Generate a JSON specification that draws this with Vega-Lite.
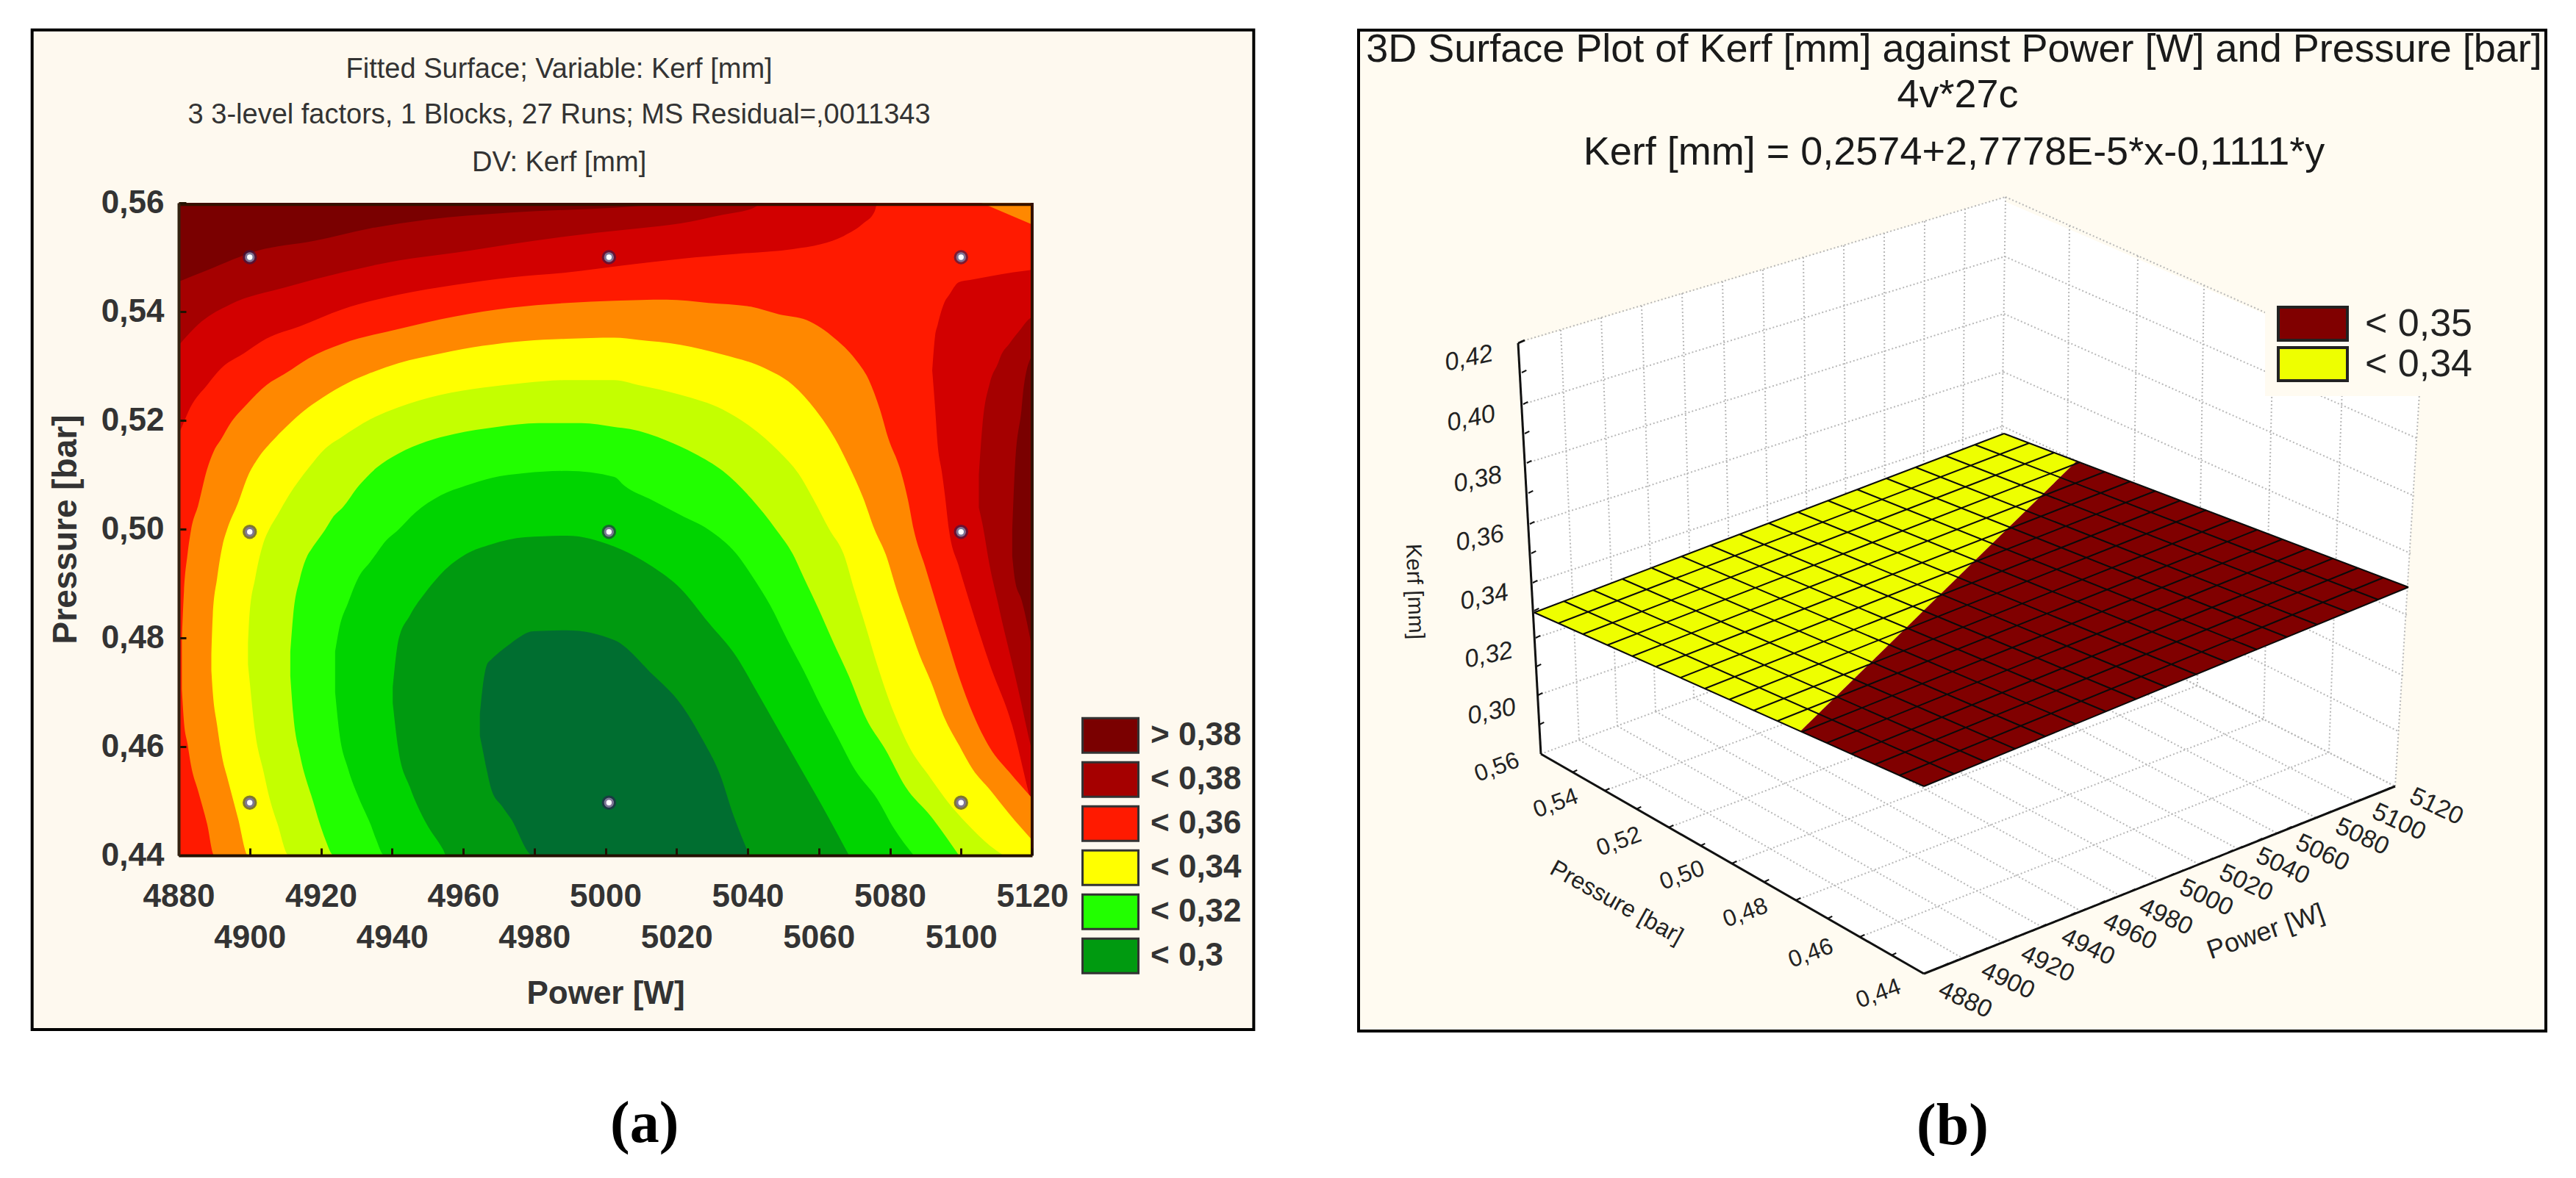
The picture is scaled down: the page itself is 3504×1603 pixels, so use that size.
{"$schema":"https://vega.github.io/schema/vega-lite/v6.json","background":"#ffffff","padding":{"left":41,"top":38,"right":0,"bottom":0},"config":{"font":"Liberation Sans","view":{"stroke":null}},"spacing":138,"resolve":{"scale":{"color":"independent"},"legend":{"color":"independent"}},"hconcat":[{"width":1161,"height":888,"encoding":{"x":{"field":"power","type":"quantitative","scale":{"domain":[4880,5120],"nice":false},"axis":{"values":[4880,4900,4920,4940,4960,4980,5000,5020,5040,5060,5080,5100,5120],"title":"Power [W]","titleFontSize":44,"titleFontWeight":"bold","titleColor":"#333333","titlePadding":32,"labelFontSize":44,"labelFontWeight":"bold","labelColor":"#333333","labelOverlap":false,"labelFlush":false,"labelBound":false,"labelPadding":44,"labelBaseline":"top","labelLineHeight":56,"format":"d","labelExpr":"indexof([4900,4940,4980,5020,5060,5100], datum.value) >= 0 ? ['', datum.label] : datum.label","tickSize":-10,"tickColor":"#221100","tickWidth":3,"domainColor":"#221100","domainWidth":4,"grid":false,"zindex":1}},"y":{"field":"upper","type":"quantitative","stack":null,"scale":{"domain":[0.44,0.56],"nice":false},"axis":{"values":[0.44,0.46,0.48,0.5,0.52,0.54,0.56],"title":"Pressure [bar]","titleFontSize":46,"titleFontWeight":"bold","titleColor":"#333333","titlePadding":24,"labelFontSize":44,"labelFontWeight":"bold","labelColor":"#333333","labelOverlap":false,"labelFlush":false,"labelBound":false,"labelPadding":30,"labelExpr":"replace(format(datum.value,'.2f'),'.',',')","tickSize":-10,"tickColor":"#221100","tickWidth":3,"domainColor":"#332211","domainWidth":4,"grid":false,"zindex":1}}},"layer":[{"data":{"values":[{"power":4838.8,"x2":5182.3,"upper":0.40797,"y2":0.5918}]},"mark":{"type":"rect","fill":"#fef9ef","stroke":"#000000","strokeWidth":4},"encoding":{"x2":{"field":"x2"},"y2":{"field":"y2"}}},{"data":{"values":[
{"shape":"s00","band":"> 0,38","power":4880,"upper":0.56,"lower":0.44},{"shape":"s00","band":"> 0,38","power":5120,"upper":0.56,"lower":0.44},
{"shape":"s01","band":"< 0,38","power":4880,"upper":0.5455,"lower":0.44},{"shape":"s01","band":"< 0,38","power":4888,"upper":0.5476,"lower":0.44},{"shape":"s01","band":"< 0,38","power":4902.3,"upper":0.5512,"lower":0.44},{"shape":"s01","band":"< 0,38","power":4918.1,"upper":0.553,"lower":0.44},{"shape":"s01","band":"< 0,38","power":4933.9,"upper":0.5553,"lower":0.44},{"shape":"s01","band":"< 0,38","power":4949.7,"upper":0.5569,"lower":0.44},{"shape":"s01","band":"< 0,38","power":4973.4,"upper":0.5582,"lower":0.44},{"shape":"s01","band":"< 0,38","power":5002.5,"upper":0.5591,"lower":0.44},{"shape":"s01","band":"< 0,38","power":5025,"upper":0.56,"lower":0.44},{"shape":"s01","band":"< 0,38","power":5120,"upper":0.56,"lower":0.44},
{"shape":"s02","band":"< 0,37","power":4880,"upper":0.5338,"lower":0.44},{"shape":"s02","band":"< 0,37","power":4886.5,"upper":0.5382,"lower":0.44},{"shape":"s02","band":"< 0,37","power":4894.4,"upper":0.5413,"lower":0.44},{"shape":"s02","band":"< 0,37","power":4910.2,"upper":0.5445,"lower":0.44},{"shape":"s02","band":"< 0,37","power":4926,"upper":0.5472,"lower":0.44},{"shape":"s02","band":"< 0,37","power":4941.8,"upper":0.5494,"lower":0.44},{"shape":"s02","band":"< 0,37","power":4957.6,"upper":0.5508,"lower":0.44},{"shape":"s02","band":"< 0,37","power":4973.4,"upper":0.5524,"lower":0.44},{"shape":"s02","band":"< 0,37","power":4997.4,"upper":0.5545,"lower":0.44},{"shape":"s02","band":"< 0,37","power":5009.3,"upper":0.5553,"lower":0.44},{"shape":"s02","band":"< 0,37","power":5021.1,"upper":0.5562,"lower":0.44},{"shape":"s02","band":"< 0,37","power":5033,"upper":0.5578,"lower":0.44},{"shape":"s02","band":"< 0,37","power":5041,"upper":0.5589,"lower":0.44},{"shape":"s02","band":"< 0,37","power":5045,"upper":0.56,"lower":0.44},{"shape":"s02","band":"< 0,37","power":5120,"upper":0.56,"lower":0.44},
{"shape":"s03","band":"< 0,36","power":4880,"upper":0.5175,"lower":0.44},{"shape":"s03","band":"< 0,36","power":4880.9,"upper":0.5188,"lower":0.44},{"shape":"s03","band":"< 0,36","power":4883.3,"upper":0.5224,"lower":0.44},{"shape":"s03","band":"< 0,36","power":4888,"upper":0.5265,"lower":0.44},{"shape":"s03","band":"< 0,36","power":4892,"upper":0.5296,"lower":0.44},{"shape":"s03","band":"< 0,36","power":4898.3,"upper":0.5323,"lower":0.44},{"shape":"s03","band":"< 0,36","power":4904.6,"upper":0.535,"lower":0.44},{"shape":"s03","band":"< 0,36","power":4914.1,"upper":0.5373,"lower":0.44},{"shape":"s03","band":"< 0,36","power":4926,"upper":0.5404,"lower":0.44},{"shape":"s03","band":"< 0,36","power":4941.8,"upper":0.5431,"lower":0.44},{"shape":"s03","band":"< 0,36","power":4957.6,"upper":0.5449,"lower":0.44},{"shape":"s03","band":"< 0,36","power":4973.4,"upper":0.5463,"lower":0.44},{"shape":"s03","band":"< 0,36","power":4989.2,"upper":0.5472,"lower":0.44},{"shape":"s03","band":"< 0,36","power":5005.3,"upper":0.5485,"lower":0.44},{"shape":"s03","band":"< 0,36","power":5021.1,"upper":0.5497,"lower":0.44},{"shape":"s03","band":"< 0,36","power":5036.9,"upper":0.5506,"lower":0.44},{"shape":"s03","band":"< 0,36","power":5052.7,"upper":0.5515,"lower":0.44},{"shape":"s03","band":"< 0,36","power":5060.6,"upper":0.5524,"lower":0.44},{"shape":"s03","band":"< 0,36","power":5067,"upper":0.5539,"lower":0.44},{"shape":"s03","band":"< 0,36","power":5072.5,"upper":0.5562,"lower":0.44},{"shape":"s03","band":"< 0,36","power":5075.7,"upper":0.5584,"lower":0.44},{"shape":"s03","band":"< 0,36","power":5076.5,"upper":0.56,"lower":0.44},{"shape":"s03","band":"< 0,36","power":5120,"upper":0.56,"lower":0.44},
{"shape":"s04","band":"< 0,35","power":5105.7,"upper":0.56,"lower":0.56},{"shape":"s04","band":"< 0,35","power":5120,"upper":0.56,"lower":0.556},
{"shape":"s05","band":"< 0,37","power":5091.9,"upper":0.5292,"lower":0.5292},{"shape":"s05","band":"< 0,37","power":5092.7,"upper":0.5355,"lower":0.5224},{"shape":"s05","band":"< 0,37","power":5093.4,"upper":0.5375,"lower":0.5157},{"shape":"s05","band":"< 0,37","power":5094.6,"upper":0.5404,"lower":0.5105},{"shape":"s05","band":"< 0,37","power":5095.4,"upper":0.5418,"lower":0.5066},{"shape":"s05","band":"< 0,37","power":5096.6,"upper":0.543,"lower":0.4999},{"shape":"s05","band":"< 0,37","power":5099.4,"upper":0.5454,"lower":0.4931},{"shape":"s05","band":"< 0,37","power":5102.5,"upper":0.5458,"lower":0.4864},{"shape":"s05","band":"< 0,37","power":5108.1,"upper":0.5465,"lower":0.4751},{"shape":"s05","band":"< 0,37","power":5114.4,"upper":0.5472,"lower":0.4639},{"shape":"s05","band":"< 0,37","power":5119.1,"upper":0.5476,"lower":0.4513},{"shape":"s05","band":"< 0,37","power":5120,"upper":0.5477,"lower":0.449},
{"shape":"s06","band":"< 0,38","power":5105,"upper":0.51,"lower":0.504},{"shape":"s06","band":"< 0,38","power":5106,"upper":0.519,"lower":0.501},{"shape":"s06","band":"< 0,38","power":5108.1,"upper":0.5269,"lower":0.4931},{"shape":"s06","band":"< 0,38","power":5110.4,"upper":0.5305,"lower":0.4864},{"shape":"s06","band":"< 0,38","power":5111.2,"upper":0.5319,"lower":0.484},{"shape":"s06","band":"< 0,38","power":5113.6,"upper":0.5341,"lower":0.4774},{"shape":"s06","band":"< 0,38","power":5115.2,"upper":0.5355,"lower":0.473},{"shape":"s06","band":"< 0,38","power":5116.8,"upper":0.5368,"lower":0.4684},{"shape":"s06","band":"< 0,38","power":5119.1,"upper":0.5386,"lower":0.4615},{"shape":"s06","band":"< 0,38","power":5120,"upper":0.539,"lower":0.459},
{"shape":"s07","band":"> 0,38","power":5114.4,"upper":0.5,"lower":0.495},{"shape":"s07","band":"> 0,38","power":5115.2,"upper":0.512,"lower":0.4905},{"shape":"s07","band":"> 0,38","power":5117,"upper":0.522,"lower":0.487},{"shape":"s07","band":"> 0,38","power":5117.6,"upper":0.526,"lower":0.4855},{"shape":"s07","band":"> 0,38","power":5120,"upper":0.532,"lower":0.478},
{"shape":"s08","band":"< 0,35","power":4880.9,"upper":0.4796,"lower":0.4706},{"shape":"s08","band":"< 0,35","power":4881.5,"upper":0.4886,"lower":0.4645},{"shape":"s08","band":"< 0,35","power":4882.5,"upper":0.4954,"lower":0.4605},{"shape":"s08","band":"< 0,35","power":4883.5,"upper":0.4999,"lower":0.4565},{"shape":"s08","band":"< 0,35","power":4885.5,"upper":0.5044,"lower":0.4518},{"shape":"s08","band":"< 0,35","power":4888,"upper":0.511,"lower":0.4458},{"shape":"s08","band":"< 0,35","power":4890,"upper":0.5145,"lower":0.44},{"shape":"s08","band":"< 0,35","power":4892,"upper":0.5166,"lower":0.44},{"shape":"s08","band":"< 0,35","power":4894.4,"upper":0.5193,"lower":0.44},{"shape":"s08","band":"< 0,35","power":4899.1,"upper":0.5229,"lower":0.44},{"shape":"s08","band":"< 0,35","power":4904.7,"upper":0.5265,"lower":0.44},{"shape":"s08","band":"< 0,35","power":4910.2,"upper":0.5287,"lower":0.44},{"shape":"s08","band":"< 0,35","power":4916.5,"upper":0.5314,"lower":0.44},{"shape":"s08","band":"< 0,35","power":4926,"upper":0.5341,"lower":0.44},{"shape":"s08","band":"< 0,35","power":4941.8,"upper":0.5368,"lower":0.44},{"shape":"s08","band":"< 0,35","power":4957.6,"upper":0.5391,"lower":0.44},{"shape":"s08","band":"< 0,35","power":4973.4,"upper":0.5407,"lower":0.44},{"shape":"s08","band":"< 0,35","power":4989.2,"upper":0.5416,"lower":0.44},{"shape":"s08","band":"< 0,35","power":5002.5,"upper":0.542,"lower":0.44},{"shape":"s08","band":"< 0,35","power":5017.2,"upper":0.5422,"lower":0.44},{"shape":"s08","band":"< 0,35","power":5029,"upper":0.5416,"lower":0.44},{"shape":"s08","band":"< 0,35","power":5040.9,"upper":0.5409,"lower":0.44},{"shape":"s08","band":"< 0,35","power":5048.8,"upper":0.5395,"lower":0.44},{"shape":"s08","band":"< 0,35","power":5056.7,"upper":0.5384,"lower":0.44},{"shape":"s08","band":"< 0,35","power":5064.6,"upper":0.535,"lower":0.44},{"shape":"s08","band":"< 0,35","power":5070.1,"upper":0.5314,"lower":0.44},{"shape":"s08","band":"< 0,35","power":5074.1,"upper":0.5274,"lower":0.44},{"shape":"s08","band":"< 0,35","power":5077.2,"upper":0.522,"lower":0.44},{"shape":"s08","band":"< 0,35","power":5079.6,"upper":0.5166,"lower":0.44},{"shape":"s08","band":"< 0,35","power":5082.8,"upper":0.5112,"lower":0.44},{"shape":"s08","band":"< 0,35","power":5085.1,"upper":0.5053,"lower":0.44},{"shape":"s08","band":"< 0,35","power":5086.7,"upper":0.4999,"lower":0.44},{"shape":"s08","band":"< 0,35","power":5089.9,"upper":0.4931,"lower":0.44},{"shape":"s08","band":"< 0,35","power":5093,"upper":0.4864,"lower":0.44},{"shape":"s08","band":"< 0,35","power":5096.2,"upper":0.4796,"lower":0.44},{"shape":"s08","band":"< 0,35","power":5099.4,"upper":0.4729,"lower":0.44},{"shape":"s08","band":"< 0,35","power":5103.3,"upper":0.4661,"lower":0.44},{"shape":"s08","band":"< 0,35","power":5108.1,"upper":0.4598,"lower":0.44},{"shape":"s08","band":"< 0,35","power":5113.6,"upper":0.4553,"lower":0.44},{"shape":"s08","band":"< 0,35","power":5120,"upper":0.4505,"lower":0.44},
{"shape":"s09","band":"< 0,34","power":4889.2,"upper":0.477,"lower":0.474},{"shape":"s09","band":"< 0,34","power":4889.6,"upper":0.4841,"lower":0.47},{"shape":"s09","band":"< 0,34","power":4890.8,"upper":0.4909,"lower":0.464},{"shape":"s09","band":"< 0,34","power":4892.4,"upper":0.4972,"lower":0.4575},{"shape":"s09","band":"< 0,34","power":4893.6,"upper":0.4999,"lower":0.4545},{"shape":"s09","band":"< 0,34","power":4896.7,"upper":0.5048,"lower":0.4468},{"shape":"s09","band":"< 0,34","power":4899.5,"upper":0.5098,"lower":0.44},{"shape":"s09","band":"< 0,34","power":4902.3,"upper":0.513,"lower":0.44},{"shape":"s09","band":"< 0,34","power":4906.2,"upper":0.5161,"lower":0.44},{"shape":"s09","band":"< 0,34","power":4910.2,"upper":0.5188,"lower":0.44},{"shape":"s09","band":"< 0,34","power":4916.5,"upper":0.5224,"lower":0.44},{"shape":"s09","band":"< 0,34","power":4920.5,"upper":0.5242,"lower":0.44},{"shape":"s09","band":"< 0,34","power":4927.6,"upper":0.5269,"lower":0.44},{"shape":"s09","band":"< 0,34","power":4933.9,"upper":0.5287,"lower":0.44},{"shape":"s09","band":"< 0,34","power":4941.8,"upper":0.5305,"lower":0.44},{"shape":"s09","band":"< 0,34","power":4953.7,"upper":0.5323,"lower":0.44},{"shape":"s09","band":"< 0,34","power":4965.5,"upper":0.5337,"lower":0.44},{"shape":"s09","band":"< 0,34","power":4977.4,"upper":0.5346,"lower":0.44},{"shape":"s09","band":"< 0,34","power":4989.2,"upper":0.535,"lower":0.44},{"shape":"s09","band":"< 0,34","power":5002.5,"upper":0.5352,"lower":0.44},{"shape":"s09","band":"< 0,34","power":5009.3,"upper":0.5348,"lower":0.44},{"shape":"s09","band":"< 0,34","power":5021.1,"upper":0.5339,"lower":0.44},{"shape":"s09","band":"< 0,34","power":5033,"upper":0.5321,"lower":0.44},{"shape":"s09","band":"< 0,34","power":5044.8,"upper":0.5296,"lower":0.44},{"shape":"s09","band":"< 0,34","power":5052.7,"upper":0.5265,"lower":0.44},{"shape":"s09","band":"< 0,34","power":5059,"upper":0.522,"lower":0.44},{"shape":"s09","band":"< 0,34","power":5064.6,"upper":0.5166,"lower":0.44},{"shape":"s09","band":"< 0,34","power":5068.5,"upper":0.5116,"lower":0.44},{"shape":"s09","band":"< 0,34","power":5072.5,"upper":0.5057,"lower":0.44},{"shape":"s09","band":"< 0,34","power":5075.7,"upper":0.4999,"lower":0.44},{"shape":"s09","band":"< 0,34","power":5078.8,"upper":0.4954,"lower":0.44},{"shape":"s09","band":"< 0,34","power":5082,"upper":0.4886,"lower":0.44},{"shape":"s09","band":"< 0,34","power":5085.1,"upper":0.4828,"lower":0.44},{"shape":"s09","band":"< 0,34","power":5088.3,"upper":0.4769,"lower":0.44},{"shape":"s09","band":"< 0,34","power":5091.5,"upper":0.472,"lower":0.44},{"shape":"s09","band":"< 0,34","power":5095.4,"upper":0.4652,"lower":0.44},{"shape":"s09","band":"< 0,34","power":5099.4,"upper":0.4603,"lower":0.44},{"shape":"s09","band":"< 0,34","power":5103.3,"upper":0.4558,"lower":0.44},{"shape":"s09","band":"< 0,34","power":5108.1,"upper":0.4521,"lower":0.44},{"shape":"s09","band":"< 0,34","power":5113.6,"upper":0.4476,"lower":0.44},{"shape":"s09","band":"< 0,34","power":5120,"upper":0.4428,"lower":0.44},
{"shape":"s10","band":"< 0,33","power":4899.5,"upper":0.479,"lower":0.4751},{"shape":"s10","band":"< 0,33","power":4899.9,"upper":0.4841,"lower":0.4725},{"shape":"s10","band":"< 0,33","power":4901.5,"upper":0.4909,"lower":0.4627},{"shape":"s10","band":"< 0,33","power":4903.9,"upper":0.4976,"lower":0.4553},{"shape":"s10","band":"< 0,33","power":4905.4,"upper":0.4999,"lower":0.4509},{"shape":"s10","band":"< 0,33","power":4907.8,"upper":0.5026,"lower":0.4458},{"shape":"s10","band":"< 0,33","power":4911,"upper":0.5062,"lower":0.44},{"shape":"s10","band":"< 0,33","power":4916.5,"upper":0.5112,"lower":0.44},{"shape":"s10","band":"< 0,33","power":4921.2,"upper":0.5148,"lower":0.44},{"shape":"s10","band":"< 0,33","power":4926,"upper":0.517,"lower":0.44},{"shape":"s10","band":"< 0,33","power":4933.9,"upper":0.5202,"lower":0.44},{"shape":"s10","band":"< 0,33","power":4941.8,"upper":0.5224,"lower":0.44},{"shape":"s10","band":"< 0,33","power":4953.7,"upper":0.5247,"lower":0.44},{"shape":"s10","band":"< 0,33","power":4965.5,"upper":0.526,"lower":0.44},{"shape":"s10","band":"< 0,33","power":4977.4,"upper":0.5269,"lower":0.44},{"shape":"s10","band":"< 0,33","power":4989.2,"upper":0.5274,"lower":0.44},{"shape":"s10","band":"< 0,33","power":5002.5,"upper":0.5274,"lower":0.44},{"shape":"s10","band":"< 0,33","power":5009.3,"upper":0.5265,"lower":0.44},{"shape":"s10","band":"< 0,33","power":5021.1,"upper":0.5247,"lower":0.44},{"shape":"s10","band":"< 0,33","power":5033,"upper":0.522,"lower":0.44},{"shape":"s10","band":"< 0,33","power":5040.9,"upper":0.5188,"lower":0.44},{"shape":"s10","band":"< 0,33","power":5048.8,"upper":0.5143,"lower":0.44},{"shape":"s10","band":"< 0,33","power":5054.3,"upper":0.5102,"lower":0.44},{"shape":"s10","band":"< 0,33","power":5058.3,"upper":0.5057,"lower":0.44},{"shape":"s10","band":"< 0,33","power":5063,"upper":0.4999,"lower":0.44},{"shape":"s10","band":"< 0,33","power":5067,"upper":0.4954,"lower":0.44},{"shape":"s10","band":"< 0,33","power":5070.1,"upper":0.4886,"lower":0.44},{"shape":"s10","band":"< 0,33","power":5073.3,"upper":0.4819,"lower":0.44},{"shape":"s10","band":"< 0,33","power":5076.4,"upper":0.4751,"lower":0.44},{"shape":"s10","band":"< 0,33","power":5081.2,"upper":0.4661,"lower":0.44},{"shape":"s10","band":"< 0,33","power":5085.9,"upper":0.4594,"lower":0.44},{"shape":"s10","band":"< 0,33","power":5090.7,"upper":0.4549,"lower":0.44},{"shape":"s10","band":"< 0,33","power":5096.2,"upper":0.4499,"lower":0.44},{"shape":"s10","band":"< 0,33","power":5101.7,"upper":0.4458,"lower":0.44},{"shape":"s10","band":"< 0,33","power":5108.1,"upper":0.4418,"lower":0.44},{"shape":"s10","band":"< 0,33","power":5112,"upper":0.44,"lower":0.44},
{"shape":"s11","band":"< 0,32","power":4911.4,"upper":0.4775,"lower":0.473},{"shape":"s11","band":"< 0,32","power":4912.2,"upper":0.4841,"lower":0.4661},{"shape":"s11","band":"< 0,32","power":4914.1,"upper":0.4909,"lower":0.4585},{"shape":"s11","band":"< 0,32","power":4916.5,"upper":0.4955,"lower":0.4526},{"shape":"s11","band":"< 0,32","power":4917.3,"upper":0.4963,"lower":0.451},{"shape":"s11","band":"< 0,32","power":4919.7,"upper":0.4985,"lower":0.4458},{"shape":"s11","band":"< 0,32","power":4921.2,"upper":0.4999,"lower":0.443},{"shape":"s11","band":"< 0,32","power":4923.6,"upper":0.5024,"lower":0.44},{"shape":"s11","band":"< 0,32","power":4926,"upper":0.5039,"lower":0.44},{"shape":"s11","band":"< 0,32","power":4930.7,"upper":0.508,"lower":0.44},{"shape":"s11","band":"< 0,32","power":4935.5,"upper":0.5112,"lower":0.44},{"shape":"s11","band":"< 0,32","power":4941.8,"upper":0.5139,"lower":0.44},{"shape":"s11","band":"< 0,32","power":4949.7,"upper":0.5161,"lower":0.44},{"shape":"s11","band":"< 0,32","power":4957.6,"upper":0.5175,"lower":0.44},{"shape":"s11","band":"< 0,32","power":4969.5,"upper":0.5188,"lower":0.44},{"shape":"s11","band":"< 0,32","power":4981.3,"upper":0.5195,"lower":0.44},{"shape":"s11","band":"< 0,32","power":4993.2,"upper":0.5195,"lower":0.44},{"shape":"s11","band":"< 0,32","power":5002.5,"upper":0.5188,"lower":0.44},{"shape":"s11","band":"< 0,32","power":5006.9,"upper":0.5184,"lower":0.44},{"shape":"s11","band":"< 0,32","power":5017.2,"upper":0.5163,"lower":0.44},{"shape":"s11","band":"< 0,32","power":5025.1,"upper":0.5139,"lower":0.44},{"shape":"s11","band":"< 0,32","power":5033,"upper":0.5107,"lower":0.44},{"shape":"s11","band":"< 0,32","power":5040.9,"upper":0.5057,"lower":0.44},{"shape":"s11","band":"< 0,32","power":5048,"upper":0.4999,"lower":0.44},{"shape":"s11","band":"< 0,32","power":5052.7,"upper":0.4954,"lower":0.44},{"shape":"s11","band":"< 0,32","power":5055.9,"upper":0.4909,"lower":0.44},{"shape":"s11","band":"< 0,32","power":5059.8,"upper":0.4855,"lower":0.44},{"shape":"s11","band":"< 0,32","power":5063.8,"upper":0.4796,"lower":0.44},{"shape":"s11","band":"< 0,32","power":5068.5,"upper":0.4729,"lower":0.44},{"shape":"s11","band":"< 0,32","power":5073.3,"upper":0.4652,"lower":0.44},{"shape":"s11","band":"< 0,32","power":5078.8,"upper":0.4594,"lower":0.44},{"shape":"s11","band":"< 0,32","power":5084.4,"upper":0.4526,"lower":0.44},{"shape":"s11","band":"< 0,32","power":5091.5,"upper":0.4472,"lower":0.44},{"shape":"s11","band":"< 0,32","power":5099.4,"upper":0.44,"lower":0.44},
{"shape":"s12","band":"< 0,31","power":4924,"upper":0.4775,"lower":0.47},{"shape":"s12","band":"< 0,31","power":4925.2,"upper":0.4819,"lower":0.4625},{"shape":"s12","band":"< 0,31","power":4927.6,"upper":0.4864,"lower":0.456},{"shape":"s12","band":"< 0,31","power":4930.7,"upper":0.4913,"lower":0.4505},{"shape":"s12","band":"< 0,31","power":4933.9,"upper":0.494,"lower":0.4458},{"shape":"s12","band":"< 0,31","power":4935.5,"upper":0.4954,"lower":0.443},{"shape":"s12","band":"< 0,31","power":4937.8,"upper":0.4975,"lower":0.44},{"shape":"s12","band":"< 0,31","power":4941.8,"upper":0.4999,"lower":0.44},{"shape":"s12","band":"< 0,31","power":4946.5,"upper":0.503,"lower":0.44},{"shape":"s12","band":"< 0,31","power":4953.7,"upper":0.5062,"lower":0.44},{"shape":"s12","band":"< 0,31","power":4960.8,"upper":0.508,"lower":0.44},{"shape":"s12","band":"< 0,31","power":4967.9,"upper":0.5094,"lower":0.44},{"shape":"s12","band":"< 0,31","power":4977.4,"upper":0.5103,"lower":0.44},{"shape":"s12","band":"< 0,31","power":4989.2,"upper":0.5107,"lower":0.44},{"shape":"s12","band":"< 0,31","power":5002.5,"upper":0.5096,"lower":0.44},{"shape":"s12","band":"< 0,31","power":5005.3,"upper":0.508,"lower":0.44},{"shape":"s12","band":"< 0,31","power":5013.2,"upper":0.5053,"lower":0.44},{"shape":"s12","band":"< 0,31","power":5021.1,"upper":0.5026,"lower":0.44},{"shape":"s12","band":"< 0,31","power":5029,"upper":0.4999,"lower":0.44},{"shape":"s12","band":"< 0,31","power":5036.9,"upper":0.4954,"lower":0.44},{"shape":"s12","band":"< 0,31","power":5041.7,"upper":0.4909,"lower":0.44},{"shape":"s12","band":"< 0,31","power":5046.4,"upper":0.4859,"lower":0.44},{"shape":"s12","band":"< 0,31","power":5051.2,"upper":0.4796,"lower":0.44},{"shape":"s12","band":"< 0,31","power":5055.9,"upper":0.4738,"lower":0.44},{"shape":"s12","band":"< 0,31","power":5060.6,"upper":0.4675,"lower":0.44},{"shape":"s12","band":"< 0,31","power":5065.4,"upper":0.4616,"lower":0.44},{"shape":"s12","band":"< 0,31","power":5070.1,"upper":0.4558,"lower":0.44},{"shape":"s12","band":"< 0,31","power":5076.4,"upper":0.4504,"lower":0.44},{"shape":"s12","band":"< 0,31","power":5081.2,"upper":0.4449,"lower":0.44},{"shape":"s12","band":"< 0,31","power":5086.7,"upper":0.44,"lower":0.44},
{"shape":"s13","band":"< 0,3","power":4940.2,"upper":0.471,"lower":0.468},{"shape":"s13","band":"< 0,3","power":4941.8,"upper":0.4796,"lower":0.4594},{"shape":"s13","band":"< 0,3","power":4945,"upper":0.4841,"lower":0.4526},{"shape":"s13","band":"< 0,3","power":4949.7,"upper":0.4886,"lower":0.4458},{"shape":"s13","band":"< 0,3","power":4954.4,"upper":0.4922,"lower":0.441},{"shape":"s13","band":"< 0,3","power":4955.2,"upper":0.4927,"lower":0.44},{"shape":"s13","band":"< 0,3","power":4960.8,"upper":0.4954,"lower":0.44},{"shape":"s13","band":"< 0,3","power":4967.9,"upper":0.4972,"lower":0.44},{"shape":"s13","band":"< 0,3","power":4977.4,"upper":0.4985,"lower":0.44},{"shape":"s13","band":"< 0,3","power":4989.2,"upper":0.4988,"lower":0.44},{"shape":"s13","band":"< 0,3","power":5002.5,"upper":0.4968,"lower":0.44},{"shape":"s13","band":"< 0,3","power":5013.2,"upper":0.4931,"lower":0.44},{"shape":"s13","band":"< 0,3","power":5021.1,"upper":0.4891,"lower":0.44},{"shape":"s13","band":"< 0,3","power":5029,"upper":0.4828,"lower":0.44},{"shape":"s13","band":"< 0,3","power":5036.9,"upper":0.4765,"lower":0.44},{"shape":"s13","band":"< 0,3","power":5042.5,"upper":0.4702,"lower":0.44},{"shape":"s13","band":"< 0,3","power":5048,"upper":0.4639,"lower":0.44},{"shape":"s13","band":"< 0,3","power":5054.3,"upper":0.4567,"lower":0.44},{"shape":"s13","band":"< 0,3","power":5060.6,"upper":0.4495,"lower":0.44},{"shape":"s13","band":"< 0,3","power":5068.5,"upper":0.44,"lower":0.44},
{"shape":"s14","band":"< 0,29","power":4964.7,"upper":0.466,"lower":0.462},{"shape":"s14","band":"< 0,29","power":4965.5,"upper":0.471,"lower":0.4594},{"shape":"s14","band":"< 0,29","power":4966.7,"upper":0.4751,"lower":0.4555},{"shape":"s14","band":"< 0,29","power":4967.9,"upper":0.476,"lower":0.4522},{"shape":"s14","band":"< 0,29","power":4971,"upper":0.4778,"lower":0.449},{"shape":"s14","band":"< 0,29","power":4973.4,"upper":0.479,"lower":0.4468},{"shape":"s14","band":"< 0,29","power":4979.7,"upper":0.4812,"lower":0.44},{"shape":"s14","band":"< 0,29","power":4989.2,"upper":0.4814,"lower":0.44},{"shape":"s14","band":"< 0,29","power":5002.5,"upper":0.4796,"lower":0.44},{"shape":"s14","band":"< 0,29","power":5013.2,"upper":0.4733,"lower":0.44},{"shape":"s14","band":"< 0,29","power":5021.1,"upper":0.4679,"lower":0.44},{"shape":"s14","band":"< 0,29","power":5027.4,"upper":0.4612,"lower":0.44},{"shape":"s14","band":"< 0,29","power":5032.2,"upper":0.4549,"lower":0.44},{"shape":"s14","band":"< 0,29","power":5036.1,"upper":0.4472,"lower":0.44},{"shape":"s14","band":"< 0,29","power":5040.5,"upper":0.44,"lower":0.44}
]},"mark":{"type":"area","opacity":1,"interpolate":"monotone"},"encoding":{"y2":{"field":"lower"},"detail":{"field":"shape"},"color":{"field":"band","type":"nominal","scale":{"domain":["> 0,38","< 0,38","< 0,37","< 0,36","< 0,35","< 0,34","< 0,33","< 0,32","< 0,31","< 0,3","< 0,29"],"range":["#7a0000","#a50000","#d20000","#ff1a00","#ff8800","#ffff00","#c4ff00","#22ff00","#00d400","#009a10","#006e30"]},"legend":{"values":["> 0,38","< 0,38","< 0,36","< 0,34","< 0,32","< 0,3"],"orient":"none","legendX":1228,"legendY":695,"padding":0,"title":null,"symbolType":"M-1,-0.62H1V0.62H-1Z","symbolSize":5776,"clipHeight":59.6,"rowPadding":0,"labelFontSize":44,"labelFontWeight":"bold","labelColor":"#333333","labelOffset":15,"symbolStrokeColor":"#333333","symbolStrokeWidth":3,"symbolOpacity":1}}}},{"data":{"values":[{"power":4880,"b":5120,"upper":0.5597,"d":0.5597},{"power":5120,"b":5120,"upper":0.44,"d":0.56}]},"mark":{"type":"rule","color":"#331100","strokeWidth":4},"encoding":{"x2":{"field":"b"},"y2":{"field":"d"}}},{"data":{"values":[{"power":4900,"upper":0.55},{"power":5001,"upper":0.55},{"power":5100,"upper":0.55},{"power":4900,"upper":0.4995},{"power":5001,"upper":0.4995},{"power":5100,"upper":0.4995},{"power":4900,"upper":0.4497},{"power":5001,"upper":0.4497},{"power":5100,"upper":0.4497}]},"mark":{"type":"point","filled":true,"fill":"#ffffff","stroke":"#2a1a50","strokeOpacity":0.6,"strokeWidth":6,"size":180,"opacity":1}},{"data":{"values":[{"power":4987,"upper":0.5845,"label":"Fitted Surface; Variable: Kerf [mm]"},{"power":4987,"upper":0.5761,"label":"3 3-level factors, 1 Blocks, 27 Runs; MS Residual=,0011343"},{"power":4987,"upper":0.5673,"label":"DV: Kerf [mm]"}]},"mark":{"type":"text","fontSize":38,"color":"#333333"},"encoding":{"text":{"field":"label"}}},{"data":{"values":[{"power":5011,"upper":0.3905,"label":"(a)"}]},"mark":{"type":"text","font":"Liberation Serif","fontWeight":"bold","fontSize":80,"color":"#000000"},"encoding":{"text":{"field":"label"}}}]},{"width":1615,"height":888,"encoding":{"x":{"field":"u","type":"quantitative","scale":{"domain":[1846,3461],"nice":false},"axis":null},"y":{"field":"v","type":"quantitative","stack":null,"scale":{"domain":[275,1163],"nice":false,"reverse":true},"axis":null}},"layer":[{"data":{"values":[{"u":1846,"u2":3461,"v":40,"v2":1402}]},"mark":{"type":"rect","fill":"#fffbf1","stroke":"#000000","strokeWidth":4},"encoding":{"x2":{"field":"u2"},"y2":{"field":"v2"}}},{"data":{"values":[{"wall":"left","u":2063,"v":466,"v2":466},{"wall":"left","u":2094,"v":457,"v2":1025},{"wall":"left","u":2726,"v":267,"v2":797},{"wall":"right","u":2718,"v":270,"v2":795},{"wall":"right","u":3256,"v":503,"v2":1069},{"wall":"right","u":3290,"v":518,"v2":518},{"wall":"floor","u":2094,"v":1025,"v2":1025},{"wall":"floor","u":2615,"v":833,"v2":1324},{"wall":"floor","u":2718,"v":795,"v2":1283},{"wall":"floor","u":3256,"v":1069,"v2":1069}]},"mark":{"type":"area","color":"#ffffff","opacity":1},"encoding":{"y2":{"field":"v2"},"detail":{"field":"wall"}}},{"data":{"values":[{"u":2121,"v":448,"u2":2146,"v2":1006},{"u":2176,"v":431,"u2":2198,"v2":987},{"u":2231,"v":415,"u2":2250,"v2":967},{"u":2286,"v":398,"u2":2302,"v2":948},{"u":2341,"v":382,"u2":2354,"v2":929},{"u":2396,"v":366,"u2":2406,"v2":910},{"u":2451,"v":349,"u2":2458,"v2":891},{"u":2506,"v":333,"u2":2510,"v2":872},{"u":2561,"v":316,"u2":2562,"v2":852},{"u":2616,"v":300,"u2":2614,"v2":833},{"u":2671,"v":283,"u2":2666,"v2":814},{"u":2726,"v":267,"u2":2718,"v2":795},{"u":2813,"v":306,"u2":2808,"v2":841},{"u":2906,"v":347,"u2":2897,"v2":886},{"u":2996,"v":387,"u2":2987,"v2":932},{"u":3091,"v":429,"u2":3077,"v2":978},{"u":3186,"v":472,"u2":3166,"v2":1023},{"u":3290,"v":518,"u2":3256,"v2":1069},{"u":2066,"v":464,"u2":2726,"v2":267},{"u":2070,"v":549,"u2":2725,"v2":348},{"u":2075,"v":629,"u2":2724,"v2":426},{"u":2079,"v":712,"u2":2723,"v2":505},{"u":2083,"v":792,"u2":2722,"v2":579},{"u":2087,"v":867,"u2":2721,"v2":653},{"u":2090,"v":945,"u2":2720,"v2":725},{"u":2094,"v":1025,"u2":2718,"v2":795},{"u":2726,"v":267,"u2":3290,"v2":518},{"u":2725,"v":348,"u2":3287,"v2":596},{"u":2724,"v":426,"u2":3282,"v2":674},{"u":2723,"v":505,"u2":3277,"v2":752},{"u":2722,"v":579,"u2":3272,"v2":836},{"u":2721,"v":653,"u2":3268,"v2":919},{"u":2720,"v":725,"u2":3260,"v2":994},{"u":2718,"v":795,"u2":3256,"v2":1069},{"u":2146,"v":1006,"u2":2668,"v2":1303},{"u":2198,"v":987,"u2":2722,"v2":1282},{"u":2250,"v":967,"u2":2775,"v2":1260},{"u":2302,"v":948,"u2":2829,"v2":1239},{"u":2354,"v":929,"u2":2882,"v2":1218},{"u":2406,"v":910,"u2":2936,"v2":1197},{"u":2458,"v":891,"u2":2989,"v2":1175},{"u":2510,"v":872,"u2":3042,"v2":1154},{"u":2562,"v":852,"u2":3096,"v2":1133},{"u":2614,"v":833,"u2":3149,"v2":1112},{"u":2666,"v":814,"u2":3203,"v2":1090},{"u":2718,"v":795,"u2":3256,"v2":1069},{"u":2181,"v":1075,"u2":2808,"v2":841},{"u":2268,"v":1125,"u2":2897,"v2":886},{"u":2354,"v":1174,"u2":2987,"v2":932},{"u":2441,"v":1224,"u2":3077,"v2":978},{"u":2528,"v":1274,"u2":3166,"v2":1023}]},"mark":{"type":"rule","color":"#b8b8b8","strokeDash":[2,3],"strokeWidth":2},"encoding":{"x2":{"field":"u2"},"y2":{"field":"v2"}}},{"data":{"values":[{"u":2063,"v":466,"u2":2094,"v2":1025},{"u":2094,"v":1025,"u2":2615,"v2":1324},{"u":2615,"v":1324,"u2":3256,"v2":1069},{"u":2063,"v":466,"u2":2072,"v2":462}]},"mark":{"type":"rule","color":"#111111","strokeWidth":3},"encoding":{"x2":{"field":"u2"},"y2":{"field":"v2"}}},{"data":{"values":[{"part":"a","band":"< 0,34","u":2085,"v":832.5,"v2":832.5},{"part":"a","band":"< 0,34","u":2447,"v":694.5,"v2":994},{"part":"a","band":"< 0,34","u":2723.5,"v":589,"v2":723.4},{"part":"a","band":"< 0,34","u":2822,"v":627,"v2":627},{"part":"b","band":"< 0,35","u":2447,"v":994,"v2":994},{"part":"b","band":"< 0,35","u":2615,"v":829.5,"v2":1069},{"part":"b","band":"< 0,35","u":2822,"v":627,"v2":984},{"part":"b","band":"< 0,35","u":3274,"v":798,"v2":798}]},"mark":{"type":"area","opacity":1},"encoding":{"y2":{"field":"v2"},"detail":{"field":"part"},"color":{"field":"band","type":"nominal","scale":{"domain":["< 0,35","< 0,34"],"range":["#800000","#eeff00"]},"legend":{"orient":"none","legendX":1233,"legendY":121,"title":null,"fillColor":"#fffbf1","padding":16,"symbolType":"M-1,-0.48H1V0.48H-1Z","symbolSize":8836,"clipHeight":55,"rowPadding":0,"labelFontSize":52,"labelColor":"#222222","labelOffset":22,"symbolStrokeColor":"#222222","symbolStrokeWidth":4,"symbolOpacity":1}}}},{"data":{"values":[{"u":2085,"v":832.5,"u2":2724,"v2":589},{"u":2118,"v":847,"u2":2758,"v2":602},{"u":2151,"v":862,"u2":2792,"v2":615},{"u":2184,"v":877,"u2":2827,"v2":628},{"u":2218,"v":892,"u2":2861,"v2":641},{"u":2251,"v":906,"u2":2896,"v2":654},{"u":2284,"v":921,"u2":2930,"v2":667},{"u":2317,"v":936,"u2":2964,"v2":680},{"u":2350,"v":951,"u2":2999,"v2":693},{"u":2383,"v":966,"u2":3033,"v2":707},{"u":2416,"v":980,"u2":3068,"v2":720},{"u":2449,"v":995,"u2":3102,"v2":733},{"u":2483,"v":1010,"u2":3136,"v2":746},{"u":2516,"v":1025,"u2":3171,"v2":759},{"u":2549,"v":1039,"u2":3205,"v2":772},{"u":2582,"v":1054,"u2":3240,"v2":785},{"u":2615,"v":1069,"u2":3274,"v2":798},{"u":2085,"v":832.5,"u2":2615,"v2":1069},{"u":2125,"v":817,"u2":2656,"v2":1052},{"u":2165,"v":802,"u2":2697,"v2":1035},{"u":2205,"v":787,"u2":2739,"v2":1018},{"u":2245,"v":772,"u2":2780,"v2":1001},{"u":2285,"v":756,"u2":2821,"v2":984},{"u":2324,"v":741,"u2":2862,"v2":967},{"u":2364,"v":726,"u2":2903,"v2":950},{"u":2404,"v":711,"u2":2945,"v2":934},{"u":2444,"v":696,"u2":2986,"v2":917},{"u":2484,"v":680,"u2":3027,"v2":900},{"u":2524,"v":665,"u2":3068,"v2":883},{"u":2564,"v":650,"u2":3109,"v2":866},{"u":2604,"v":635,"u2":3150,"v2":849},{"u":2644,"v":619,"u2":3192,"v2":832},{"u":2684,"v":604,"u2":3233,"v2":815},{"u":2724,"v":589,"u2":3274,"v2":798}]},"mark":{"type":"rule","color":"#0a0a0a","strokeWidth":2},"encoding":{"x2":{"field":"u2"},"y2":{"field":"v2"}}},{"data":{"values":[{"u":2628,"v":1319},{"u":2642,"v":1313},{"u":2655,"v":1308},{"u":2668,"v":1303},{"u":2682,"v":1297},{"u":2695,"v":1292},{"u":2709,"v":1287},{"u":2722,"v":1282},{"u":2735,"v":1276},{"u":2749,"v":1271},{"u":2762,"v":1266},{"u":2775,"v":1260},{"u":2789,"v":1255},{"u":2802,"v":1250},{"u":2815,"v":1244},{"u":2829,"v":1239},{"u":2842,"v":1234},{"u":2855,"v":1228},{"u":2869,"v":1223},{"u":2882,"v":1218},{"u":2896,"v":1212},{"u":2909,"v":1207},{"u":2922,"v":1202},{"u":2936,"v":1197},{"u":2949,"v":1191},{"u":2962,"v":1186},{"u":2976,"v":1181},{"u":2989,"v":1175},{"u":3002,"v":1170},{"u":3016,"v":1165},{"u":3029,"v":1159},{"u":3042,"v":1154},{"u":3056,"v":1149},{"u":3069,"v":1143},{"u":3083,"v":1138},{"u":3096,"v":1133},{"u":3109,"v":1127},{"u":3123,"v":1122},{"u":3136,"v":1117},{"u":3149,"v":1112},{"u":3163,"v":1106},{"u":3176,"v":1101},{"u":3189,"v":1096},{"u":3203,"v":1090},{"u":3216,"v":1085},{"u":3229,"v":1080},{"u":3243,"v":1074},{"u":2181,"v":1075},{"u":2268,"v":1125},{"u":2354,"v":1174},{"u":2441,"v":1224},{"u":2528,"v":1274},{"u":2137,"v":1050},{"u":2224,"v":1100},{"u":2311,"v":1150},{"u":2398,"v":1199},{"u":2484,"v":1249},{"u":2571,"v":1299},{"u":2070,"v":549},{"u":2075,"v":629},{"u":2079,"v":712},{"u":2083,"v":792},{"u":2087,"v":867},{"u":2090,"v":945},{"u":2068,"v":506},{"u":2072,"v":589},{"u":2077,"v":670},{"u":2081,"v":752},{"u":2085,"v":830},{"u":2088,"v":906},{"u":2092,"v":985}]},"mark":{"type":"point","shape":"M0,0L1,-0.5","size":160,"stroke":"#111111","strokeWidth":2,"filled":false,"opacity":1}},{"data":{"values":[{"u":2656,"v":67,"label":"3D Surface Plot of Kerf [mm] against Power [W] and Pressure [bar]"},{"u":2661,"v":129,"label":"4v*27c"},{"u":2656,"v":207,"label":"Kerf [mm] = 0,2574+2,7778E-5*x-0,1111*y"}]},"mark":{"type":"text","fontSize":54,"color":"#1a1a1a"},"encoding":{"text":{"field":"label"}}},{"data":{"values":[{"u":1996,"v":487,"label":"0,42"},{"u":1999,"v":569,"label":"0,40"},{"u":2008,"v":652,"label":"0,38"},{"u":2011,"v":732,"label":"0,36"},{"u":2017,"v":812,"label":"0,34"},{"u":2023,"v":891,"label":"0,32"},{"u":2027,"v":968,"label":"0,30"}]},"mark":{"type":"text","fontSize":34,"fontStyle":"italic","angle":348,"color":"#222222"},"encoding":{"text":{"field":"label"}}},{"data":{"values":[{"u":1922,"v":804,"label":"Kerf [mm]"}]},"mark":{"type":"text","fontSize":30,"angle":88,"color":"#222222"},"encoding":{"text":{"field":"label"}}},{"data":{"values":[{"u":2034,"v":1043,"label":"0,56"},{"u":2114,"v":1092,"label":"0,54"},{"u":2200,"v":1144,"label":"0,52"},{"u":2286,"v":1190,"label":"0,50"},{"u":2372,"v":1241,"label":"0,48"},{"u":2461,"v":1296,"label":"0,46"},{"u":2553,"v":1351,"label":"0,44"}]},"mark":{"type":"text","fontSize":32,"angle":340,"color":"#222222"},"encoding":{"text":{"field":"label"}}},{"data":{"values":[{"u":2197,"v":1227,"label":"Pressure [bar]"}]},"mark":{"type":"text","fontSize":32,"angle":29,"color":"#222222"},"encoding":{"text":{"field":"label"}}},{"data":{"values":[{"u":2671,"v":1360,"label":"4880"},{"u":2729,"v":1334,"label":"4900"},{"u":2783,"v":1311,"label":"4920"},{"u":2838,"v":1288,"label":"4940"},{"u":2895,"v":1267,"label":"4960"},{"u":2944,"v":1247,"label":"4980"},{"u":2999,"v":1221,"label":"5000"},{"u":3053,"v":1201,"label":"5020"},{"u":3103,"v":1178,"label":"5040"},{"u":3157,"v":1160,"label":"5060"},{"u":3211,"v":1138,"label":"5080"},{"u":3261,"v":1118,"label":"5100"},{"u":3312,"v":1097,"label":"5120"}]},"mark":{"type":"text","fontSize":34,"angle":25,"color":"#222222"},"encoding":{"text":{"field":"label"}}},{"data":{"values":[{"u":3080,"v":1267,"label":"Power [W]"}]},"mark":{"type":"text","fontSize":36,"angle":341,"color":"#222222"},"encoding":{"text":{"field":"label"}}},{"data":{"values":[{"u":2654,"v":1532,"label":"(b)"}]},"mark":{"type":"text","font":"Liberation Serif","fontWeight":"bold","fontSize":80,"color":"#000000"},"encoding":{"text":{"field":"label"}}}]}]}
